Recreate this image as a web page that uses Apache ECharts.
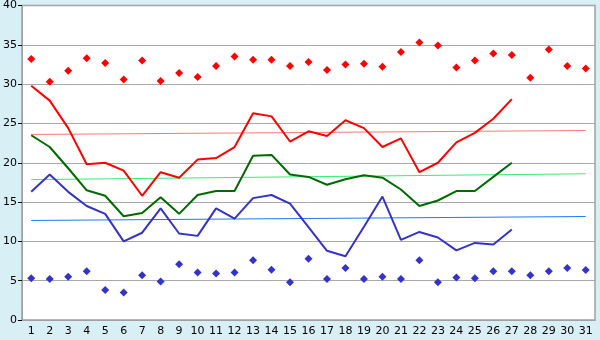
<!DOCTYPE html>
<html><head><meta charset="utf-8">
<script src="https://cdn.jsdelivr.net/npm/echarts@6/dist/echarts.min.js"></script>
<style>html,body{margin:0;padding:0;background:#d9eff6;}#c{width:600px;height:340px;}</style>
</head><body><div id="c"></div>
<script>
const days = ['1','2','3','4','5','6','7','8','9','10','11','12','13','14','15','16','17','18','19','20','21','22','23','24','25','26','27','28','29','30','31'];
const maxTemp = [29.8,27.9,24.4,19.8,20.0,19.0,15.8,18.8,18.1,20.4,20.6,22.0,26.3,25.9,22.7,24.0,23.4,25.4,24.4,22.0,23.1,18.8,20.0,22.6,23.8,25.6,28.1];
const avgTemp = [23.5,22.0,19.3,16.5,15.8,13.2,13.6,15.6,13.5,15.9,16.4,16.4,20.9,21.0,18.5,18.2,17.2,17.9,18.4,18.1,16.6,14.5,15.2,16.4,16.4,18.2,20.0];
const minTemp = [16.3,18.5,16.3,14.5,13.5,10.0,11.1,14.2,11.0,10.7,14.2,12.9,15.5,15.9,14.8,11.8,8.8,8.1,11.85,15.7,10.2,11.2,10.5,8.85,9.8,9.6,11.5];
const recordHigh = [33.2,30.3,31.7,33.3,32.7,30.6,33.0,30.4,31.4,30.9,32.3,33.5,33.1,33.1,32.3,32.8,31.8,32.5,32.6,32.2,34.1,35.3,34.9,32.1,33.0,33.9,33.7,30.8,34.4,32.3,32.0];
const recordLow = [5.3,5.2,5.5,6.2,3.8,3.5,5.7,4.9,7.1,6.05,5.9,6.05,7.6,6.4,4.8,7.8,5.2,6.6,5.2,5.5,5.2,7.6,4.8,5.4,5.3,6.2,6.2,5.7,6.2,6.6,6.35];
const maxTrend = [23.6,24.1];
const avgTrend = [17.85,18.6];
const minTrend = [12.66,13.16];
const yTicks = {min:0,max:40,interval:5};

function trend(name, ends, color){
  return {name:name,type:'line',data:[[0,ends[0]],[days.length-1,ends[1]]],symbol:'none',
    lineStyle:{color:color,width:1},silent:true,z:1};
}
function line(name,data,color){
  return {name:name,type:'line',data:data,symbol:'none',lineStyle:{color:color,width:2},z:3};
}
function pts(name,data,color){
  return {name:name,type:'scatter',data:data,symbol:'diamond',symbolSize:8,itemStyle:{color:color,opacity:1},z:4};
}
const chart = echarts.init(document.getElementById('c'));
chart.setOption({
  animation:false,
  backgroundColor:'#d9eff6',
  grid:{left:20,right:5,top:5,bottom:20,show:true,backgroundColor:'#ffffff',borderColor:'#a0a0a0',borderWidth:1.5},
  xAxis:{type:'category',data:days,boundaryGap:true,
    axisLine:{lineStyle:{color:'#a0a0a0',width:1}},
    axisTick:{alignWithLabel:true,length:4,lineStyle:{color:'#000'}},
    axisLabel:{color:'#000',fontFamily:'DejaVu Sans',fontSize:11,margin:6,interval:0},
    splitLine:{show:false}},
  yAxis:{type:'value',min:yTicks.min,max:yTicks.max,interval:yTicks.interval,
    axisLine:{show:true,lineStyle:{color:'#a0a0a0',width:1}},
    axisTick:{show:true,length:4,lineStyle:{color:'#000'}},
    axisLabel:{color:'#000',fontFamily:'DejaVu Sans',fontSize:11,margin:5},
    splitLine:{lineStyle:{color:'#a8a8a8',width:1}}},
  series:[
    trend('maxTrend',maxTrend,'#ff7878'),
    trend('avgTrend',avgTrend,'#33ee77'),
    trend('minTrend',minTrend,'#1e78ff'),
    line('max',maxTemp,'#ff0000'),
    line('avg',avgTemp,'#006a00'),
    line('min',minTemp,'#3333cc'),
    pts('recordHigh',recordHigh,'#ff0000'),
    pts('recordLow',recordLow,'#3333cc')
  ]
});
</script></body></html>
